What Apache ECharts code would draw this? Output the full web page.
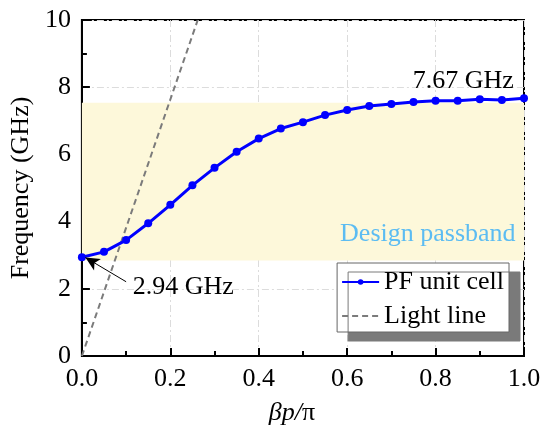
<!DOCTYPE html>
<html lang="en">
<head>
    <meta charset="UTF-8">
    <title>Dispersion</title>
    <script src="https://cdn.jsdelivr.net/npm/echarts@6/dist/echarts.min.js"></script>
    <style>
        html, body { margin: 0; padding: 0; background: #fff; }
    </style>
</head>
<body>
<div id="main" style="width:550px;height:435px;"></div>
<script type="text/javascript">
    // phase (beta*p/pi) and frequency (GHz) of the PF unit cell
    var phase = [0, 0.05, 0.1, 0.15, 0.2, 0.25, 0.3, 0.35, 0.4, 0.45, 0.5,
                 0.55, 0.6, 0.65, 0.7, 0.75, 0.8, 0.85, 0.9, 0.95, 1.0];
    var freq = [2.94, 3.10, 3.45, 3.95, 4.50, 5.08, 5.60, 6.08, 6.47, 6.77, 6.96,
                7.17, 7.32, 7.44, 7.50, 7.56, 7.60, 7.60, 7.64, 7.62, 7.67];
    // light line end points
    var lightPhase = [0, 0.262];
    var lightFreq = [0, 10];
    // design passband (GHz)
    var passband = [2.84, 7.54];
    var xTicks = [0, 0.2, 0.4, 0.6, 0.8, 1.0];
    var yTicks = [0, 2, 4, 6, 8, 10];

    var serif = 'Liberation Serif';
    var myChart = echarts.init(document.getElementById('main'));

    var cellData = phase.map(function (p, i) { return [p, freq[i]]; });
    var lightData = lightPhase.map(function (p, i) { return [p, lightFreq[i]]; });

    var gridLine = { show: true, lineStyle: { color: '#dcdcdc', width: 1, type: [7, 3, 2, 3] } };

    // text placed at a data point, no visible symbol
    function note(coord, text, align, color) {
        return {
            coord: coord,
            symbol: 'circle',
            symbolSize: 1,
            itemStyle: { color: 'rgba(0,0,0,0)' },
            label: {
                show: true, position: [0, 0], align: align, verticalAlign: 'middle',
                formatter: text, fontFamily: serif, fontSize: 26, color: color
            }
        };
    }

    option = {
        animation: false,
        grid: {
            left: 77, right: 26, top: 20, bottom: 79,
            show: true, borderColor: '#000', borderWidth: 2, backgroundColor: 'transparent'
        },
        legend: {
            orient: 'vertical',
            right: 41,
            top: 263,
            data: [
                { name: 'PF unit cell' },
                { name: 'Light line', itemStyle: { color: 'rgba(0,0,0,0)', borderWidth: 0 } }
            ],
            itemWidth: 37,
            itemHeight: 7,
            itemGap: 8,
            padding: [6, 5, 3, 4],
            backgroundColor: '#fff',
            borderColor: '#666',
            borderWidth: 1,
            shadowColor: '#7a7a7a',
            shadowBlur: 0,
            shadowOffsetX: 11,
            shadowOffsetY: 9,
            textStyle: { fontFamily: serif, fontSize: 26, color: '#000' }
        },
        xAxis: {
            type: 'value',
            min: xTicks[0],
            max: xTicks[xTicks.length - 1],
            interval: 0.2,
            name: '{i|βp/}π',
            nameLocation: 'middle',
            nameGap: 44,
            nameTextStyle: {
                fontFamily: serif, fontSize: 26, color: '#000',
                padding: [0, 22, 0, 0],
                rich: { i: { fontFamily: serif, fontSize: 26, fontStyle: 'italic', color: '#000' } }
            },
            axisLine: { show: true, lineStyle: { color: '#000', width: 2 } },
            axisTick: { show: true, inside: true, length: 8, lineStyle: { width: 2 } },
            minorTick: { show: true, splitNumber: 2, length: 5, lineStyle: { color: '#000', width: 2 } },
            axisLabel: {
                fontFamily: serif, fontSize: 26, color: '#000', margin: 10,
                formatter: function (v) { return v.toFixed(1); }
            },
            splitLine: gridLine
        },
        yAxis: {
            type: 'value',
            min: yTicks[0],
            max: yTicks[yTicks.length - 1],
            interval: 2,
            name: 'Frequency (GHz)',
            nameLocation: 'middle',
            nameGap: 44,
            nameTextStyle: { fontFamily: serif, fontSize: 26, color: '#000' },
            axisLine: { show: true, lineStyle: { color: '#000', width: 2 } },
            axisTick: { show: true, inside: true, length: 8, lineStyle: { width: 2 } },
            minorTick: { show: true, splitNumber: 2, length: 5, lineStyle: { color: '#000', width: 2 } },
            axisLabel: { fontFamily: serif, fontSize: 26, color: '#000', margin: 11 },
            splitLine: gridLine
        },
        series: [
            {
                name: 'Light line',
                type: 'line',
                data: lightData,
                symbol: 'none',
                z: 3,
                lineStyle: { color: '#7b7b7b', width: 2, type: [6, 4] },
                itemStyle: { color: '#7b7b7b' },
                markArea: {
                    silent: true,
                    itemStyle: { color: '#fdf8da' },
                    data: [[{ yAxis: passband[0] }, { yAxis: passband[1] }]]
                },
                markLine: {
                    silent: true,
                    symbol: ['none', 'arrow'],
                    symbolSize: [10, 14],
                    lineStyle: { color: '#000', width: 1, type: 'solid' },
                    label: { show: false },
                    data: [[{ coord: [0.10, 2.21] }, { coord: [0.008, 2.93] }]]
                },
                markPoint: {
                    silent: true,
                    data: [
                        note([0.116, 2.02], freq[0].toFixed(2) + ' GHz', 'left', '#000'),
                        note([0.978, 8.15], freq[freq.length - 1].toFixed(2) + ' GHz', 'right', '#000'),
                        note([0.982, 3.6], 'Design passband', 'right', '#5cbcf2')
                    ]
                }
            },
            {
                name: 'PF unit cell',
                type: 'line',
                data: cellData,
                symbol: 'circle',
                symbolSize: 8,
                z: 4,
                lineStyle: { color: '#0000ff', width: 3 },
                itemStyle: { color: '#0000ff' }
            }
        ]
    };

    myChart.setOption(option);
</script>
</body>
</html>
